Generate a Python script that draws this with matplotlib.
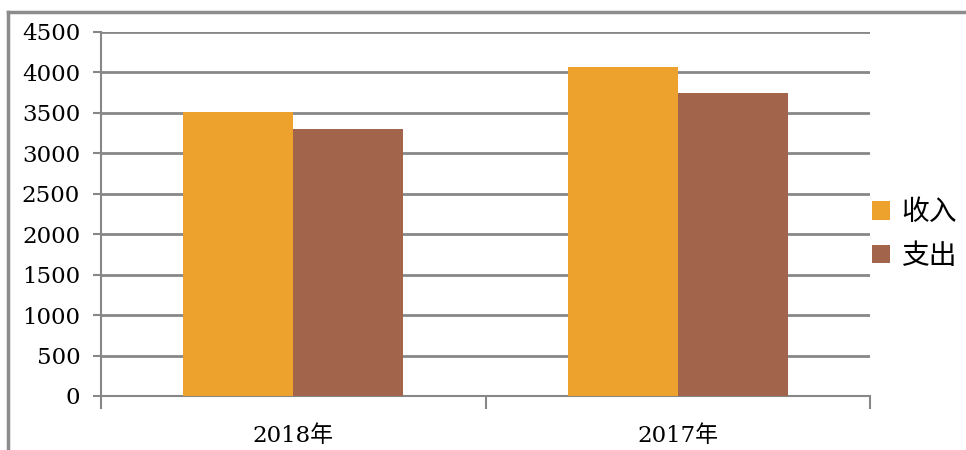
import matplotlib
matplotlib.use("Agg")
import matplotlib.pyplot as plt
import numpy as np
from matplotlib.lines import Line2D

plt.rcParams['font.family'] = ['DejaVu Serif', 'Noto Sans CJK SC']

categories = ['2018年', '2017年']
series_names = ['收入', '支出']
income = [3510, 4070]
expense = [3300, 3750]
colors = ['#EDA22E', '#A3644C']

fig = plt.figure(figsize=(9.66, 4.5), dpi=100)
ax = fig.add_axes([101 / 966, 1 - 396 / 450, 769 / 966, 364 / 450])

x = np.arange(len(categories))
w = 0.2857
ax.bar(x - w / 2, income, w, color=colors[0], label=series_names[0], zorder=3)
ax.bar(x + w / 2, expense, w, color=colors[1], label=series_names[1], zorder=3)

ax.set_xlim(-0.5, len(categories) - 0.5)
ax.set_ylim(0, 4500)
ax.set_yticks(np.arange(0, 4501, 500))
ax.yaxis.grid(True, color='#878787', linewidth=2, zorder=0)
ax.set_axisbelow(True)

# category labels centred, ticks at the boundaries
ax.set_xticks(x)
ax.set_xticklabels(categories, fontsize=16.5)
ax.tick_params(axis='x', length=0, pad=21)
ax.set_xticks(np.arange(-0.5, len(categories)), minor=True)
ax.tick_params(axis='x', which='minor', length=9, width=1.5, color='#878787')
ax.tick_params(axis='y', length=6, width=1.5, color='#878787', labelsize=16.5, pad=9)

for s in ['top', 'right']:
    ax.spines[s].set_visible(False)
for s in ['left', 'bottom']:
    ax.spines[s].set_color('#878787')
    ax.spines[s].set_linewidth(1.5)

fig.legend(loc='center left', bbox_to_anchor=(872 / 966, 1 - 234 / 450),
           frameon=False, borderpad=0, borderaxespad=0,
           prop={'family': 'Noto Sans CJK SC', 'size': 20},
           handlelength=0.65, handleheight=0.65, handletextpad=0.4, labelspacing=0.5)

# outer border
fig.add_artist(Line2D([8 / 966, 8 / 966], [0, 1 - 12 / 450], color='#8c8c8c', linewidth=2.5,
                      transform=fig.transFigure))
fig.add_artist(Line2D([8 / 966, 1], [1 - 12 / 450, 1 - 12 / 450], color='#8c8c8c', linewidth=2.5,
                      transform=fig.transFigure))

fig.savefig('out.png', dpi=100)
